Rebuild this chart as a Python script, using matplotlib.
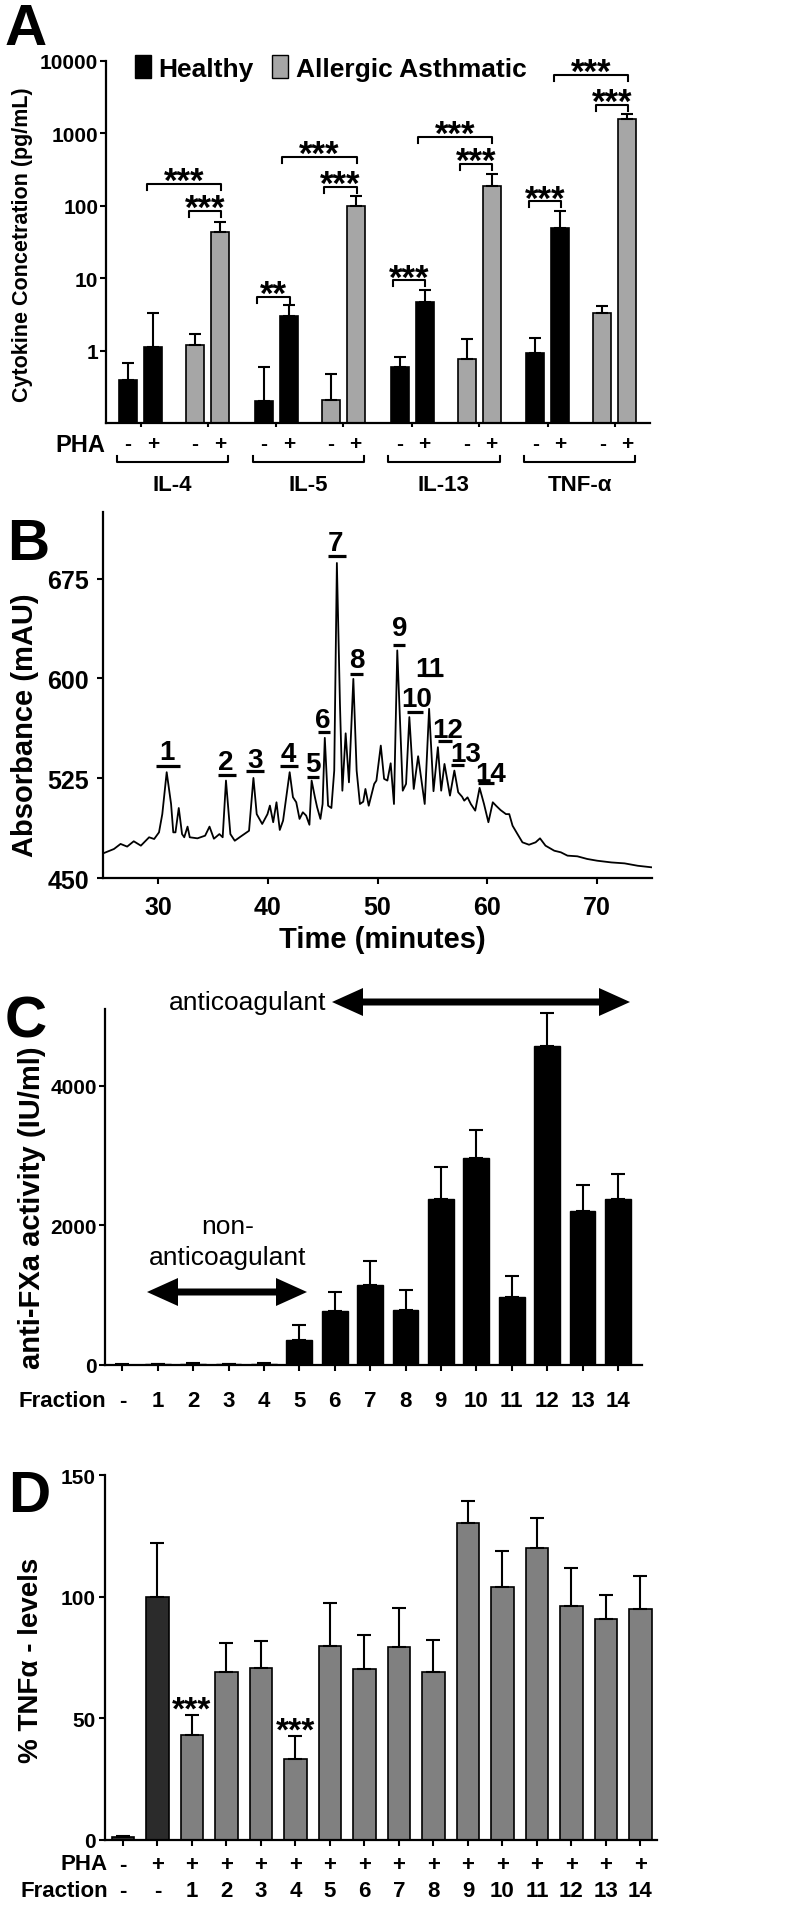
import numpy as np
import matplotlib
matplotlib.use('Agg')
import matplotlib.pyplot as plt
from matplotlib.patches import Patch, FancyArrow
from matplotlib.ticker import NullLocator
from matplotlib.transforms import blended_transform_factory

plt.rcParams['font.family'] = ['Liberation Sans', 'DejaVu Sans']
plt.rcParams['font.weight'] = 'bold'
plt.rcParams['axes.linewidth'] = 1.6
plt.rcParams['xtick.major.width'] = 1.5
plt.rcParams['ytick.major.width'] = 1.5

# ---------------- panel A data ----------------
cytokines = ['IL-4', 'IL-5', 'IL-13', 'TNF-α']
healthy_minus = [0.39, 0.20, 0.59, 0.93]
healthy_minus_err = [0.29, 0.39, 0.22, 0.56]
healthy_plus = [1.12, 3.0, 4.7, 49]
healthy_plus_err = [2.2, 1.2, 2.2, 36]
asthma_minus = [1.2, 0.21, 0.76, 3.3]
asthma_minus_err = [0.5, 0.27, 0.69, 0.8]
asthma_plus = [43.5, 100, 188, 1585]
asthma_plus_err = [16.5, 38, 87, 265]
# (cytokine, from bar, to bar, bracket height, label); bars 0=H-,1=H+,2=A-,3=A+
brackets = [(0, 1, 3, 200, '***'), (0, 2, 3, 85, '***'),
            (1, 0, 1, 5.5, '**'), (1, 1, 3, 472, '***'), (1, 2, 3, 182, '***'),
            (2, 0, 1, 9.4, '***'), (2, 1, 3, 891, '***'), (2, 2, 3, 378, '***'),
            (3, 0, 1, 116, '***'), (3, 1, 3, 6410, '***'), (3, 2, 3, 2466, '***')]
pha_signs = ['-', '+', '-', '+']

# ---------------- panel B data ----------------
chrom_time = [25.1, 26.0, 26.6, 27.2, 27.8, 28.45, 29.2, 29.66, 30.1, 30.4, 30.8, 31.2, 31.4, 31.6,
              31.9, 32.2, 32.4, 32.7, 32.9, 33.6, 34.3, 34.7, 35.1, 35.6, 35.9, 36.2, 36.6, 37.0,
              37.6, 38.3, 38.7, 39.0, 39.5, 39.98, 40.2, 40.5, 40.8, 41.1, 41.4, 42.0, 42.3, 42.6,
              42.9, 43.2, 43.5, 43.8, 44.0, 44.3, 44.5, 44.8, 45.0, 45.2, 45.5, 45.8, 46.06, 46.3,
              46.58, 46.8, 47.1, 47.4, 47.8, 48.1, 48.4, 48.7, 48.9, 49.2, 49.7, 49.9, 50.3, 50.6,
              50.9, 51.2, 51.5, 51.8, 52.3, 52.6, 52.9, 53.3, 53.7, 54.3, 54.7, 55.1, 55.5, 55.8,
              56.1, 56.6, 57.0, 57.35, 57.7, 57.9, 58.2, 58.5, 58.9, 59.3, 59.7, 60.1, 60.5, 60.8,
              61.2, 61.7, 62.0, 62.3, 62.75, 63.2, 63.8, 64.4, 64.8, 65.3, 66.1, 66.7, 67.3, 68.2,
              69.1, 70.0, 71.3, 72.5, 73.7, 75.0]
chrom_abs = [468.8, 471.8, 475.6, 473.6, 477.6, 474.3, 480.6, 479.3, 484.3, 498.0, 529.5, 505.6, 484.3, 484.3,
             502.6, 483.0, 480.6, 488.6, 480.6, 479.8, 481.8, 488.6, 479.5, 483.0, 480.6, 523.2, 483.0, 478.0,
             481.5, 485.5, 525.2, 498.0, 490.6, 498.0, 504.4, 491.9, 506.9, 486.1, 493.1, 529.5, 510.7, 506.9,
             494.4, 499.4, 496.9, 490.0, 523.2, 510.7, 503.2, 494.4, 505.6, 555.3, 504.3, 502.6, 530.7, 686.7,
             580.9, 515.6, 558.7, 521.9, 599.6, 530.7, 505.6, 507.3, 516.9, 504.3, 520.7, 523.2, 549.5, 524.5,
             523.2, 536.2, 505.6, 621.0, 515.6, 520.7, 570.9, 516.9, 541.5, 505.6, 577.1, 515.2, 548.3, 515.6,
             535.7, 511.9, 530.7, 514.4, 511.1, 508.1, 510.6, 505.6, 500.6, 517.7, 505.6, 491.9, 506.9, 504.3,
             501.1, 498.0, 498.0, 489.3, 483.0, 476.8, 475.0, 476.8, 479.8, 474.3, 470.5, 469.3, 466.8, 466.3,
             464.3, 463.0, 461.7, 461.0, 459.2, 458.0]
peak_ids = [str(i) for i in range(1, 15)]
peak_bar_start = [29.82, 35.46, 38.01, 41.14, 43.54, 44.54, 45.46, 47.49, 51.38, 52.65, 54.25, 55.47, 56.69, 59.12]
peak_bar_end = [32.0, 37.1, 39.68, 42.78, 44.64, 45.69, 47.12, 48.64, 52.52, 54.11, 55.84, 56.74, 57.9, 60.63]
peak_bar_y = [534.3, 527.5, 530.3, 534.3, 525.8, 559.6, 691.7, 603.5, 624.8, 574.7, 602.2, 553.3, 535.2, 521.2]
peak_text_t = [30.85, 36.22, 38.88, 41.89, 44.12, 45.03, 46.21, 48.14, 52.01, 53.54, 54.74, 56.41, 58.05, 60.33]
peak_text_y = [539.5, 532.0, 533.3, 538.2, 530.7, 563.8, 696.2, 608.5, 632.3, 579.6, 602.0, 556.1, 538.0, 522.9]

# ---------------- panel C data ----------------
fractions_c = ['-'] + [str(i) for i in range(1, 15)]
antifxa = [5, 10, 20, 10, 15, 359, 780, 1139, 794, 2384, 2972, 981, 4575, 2201, 2384]
antifxa_err = [5, 8, 10, 8, 8, 219, 264, 345, 287, 454, 392, 301, 466, 383, 359]

# ---------------- panel D data ----------------
pha_d = ['-'] + ['+'] * 15
fractions_d = ['-', '-'] + [str(i) for i in range(1, 15)]
tnf_levels = [1.2, 100, 43.3, 69.2, 70.7, 33.3, 79.6, 70.3, 79.4, 68.9, 130.2, 104.1, 120, 96.3, 90.8, 94.9]
tnf_err = [0.6, 22, 8.2, 11.7, 11.2, 9.6, 17.8, 14, 15.9, 13.3, 9, 14.8, 12.2, 15.3, 10, 13.4]
tnf_sig = {2: '***', 5: '***'}

W, H = 800, 1906
fig = plt.figure(figsize=(W / 100, H / 100), dpi=100)


def px(x):
    return x / W


def py(y):
    return 1 - y / H


def axes_px(l, t, r, b):
    ax = fig.add_axes([px(l), py(b), (r - l) / W, (b - t) / H])
    ax.spines['top'].set_visible(False)
    ax.spines['right'].set_visible(False)
    return ax


def star(ax, x, y, s, fs, gap):
    # asterisks sit about 0.39em above the baseline
    ax.annotate(s, xy=(x, y), xytext=(0, gap - 0.39 * fs), textcoords='offset points',
                ha='center', va='baseline', fontsize=fs, annotation_clip=False)


# panel letters
for lab, x, y in [('A', 5, 3), ('B', 7, 518), ('C', 5, 995), ('D', 8, 1470)]:
    fig.text(px(x), py(y), lab, fontsize=42, ha='left', va='top')

# ================= A =================
axA = axes_px(106, 62, 650, 424)
gsp = 5.43
offs = [0, 1, 2.68, 3.68]
bw = 0.72
series = [(healthy_minus, healthy_minus_err, 'black'), (healthy_plus, healthy_plus_err, 'black'),
          (asthma_minus, asthma_minus_err, '#a6a6a6'), (asthma_plus, asthma_plus_err, '#a6a6a6')]
for k, (vals, errs, col) in enumerate(series):
    xs = [g * gsp + offs[k] for g in range(4)]
    axA.bar(xs, vals, bw, color=col, edgecolor='black', linewidth=1.2,
            yerr=[np.zeros(4), errs], error_kw=dict(ecolor='black', elinewidth=1.5, capsize=4, capthick=1.5))
axA.set_yscale('log')
axA.set_ylim(0.1, 10000)
axA.set_xlim(-0.88, 20.88)
axA.set_yticks([1, 10, 100, 1000, 10000])
axA.set_yticklabels(['1', '10', '100', '1000', '10000'])
axA.yaxis.set_minor_locator(NullLocator())
axA.set_xticks([g * gsp + m for g in range(4) for m in (0.5, 3.18)])
axA.set_xticklabels([])
axA.tick_params(axis='y', labelsize=15, length=4.5, pad=1)
axA.tick_params(axis='x', length=3)

trA = blended_transform_factory(axA.transData, axA.transAxes)
for g in range(4):
    for k in range(4):
        axA.text(g * gsp + offs[k], -0.058, pha_signs[k], transform=trA, ha='center', va='center', fontsize=15)
    x0, x1 = g * gsp - 0.45, g * gsp + 4.0
    axA.plot([x0, x0, x1, x1], [-0.091, -0.108, -0.108, -0.091], transform=trA, clip_on=False, color='k', lw=1.5)
    axA.text((x0 + x1) / 2, -0.17, cytokines[g], transform=trA, ha='center', va='center', fontsize=16)
fig.text(px(105), py(445), 'PHA', ha='right', va='center', fontsize=17)

for g, a, b, yb, s in brackets:
    x0 = g * gsp + offs[a] - 0.26
    x1 = g * gsp + offs[b] + 0.04
    axA.plot([x0, x0, x1, x1], [yb * 0.826, yb, yb, yb * 0.826], color='k', lw=1.5, clip_on=False)
    star(axA, (x0 + x1) / 2, yb, s, 25, 4.5)

axA.legend([Patch(fc='black', ec='black'), Patch(fc='#a6a6a6', ec='black')],
           ['Healthy', 'Allergic Asthmatic'], ncol=2, frameon=False, loc='center left',
           bbox_to_anchor=(0.053, 0.981), borderaxespad=0, borderpad=0, handlelength=0.6,
           handleheight=0.95, handletextpad=0.3, columnspacing=0.7, prop={'size': 19, 'weight': 'bold'})
fig.text(px(23), py(245), 'Cytokine Concetration (pg/mL)', rotation=90, ha='center', va='center', fontsize=15.5)

# ================= B =================
axB = axes_px(103, 513, 652, 879)
axB.plot(chrom_time, chrom_abs, color='black', lw=1.3)
for i in range(14):
    axB.plot([peak_bar_start[i], peak_bar_end[i]], [peak_bar_y[i]] * 2, color='black', lw=2.3,
             solid_capstyle='butt')
    axB.text(peak_text_t[i], peak_text_y[i], peak_ids[i], ha='center', va='baseline', fontsize=20)
axB.set_xlim(25, 75)
axB.set_ylim(450, 725)
axB.set_xticks([30, 40, 50, 60, 70])
axB.set_yticks([450, 525, 600, 675])
axB.tick_params(labelsize=18, length=4)
axB.tick_params(axis='x', pad=8)
axB.tick_params(axis='y', pad=6)
fig.text(px(382), py(940), 'Time (minutes)', ha='center', va='center', fontsize=21)
fig.text(px(25), py(725), 'Absorbance (mAU)', rotation=90, ha='center', va='center', fontsize=21)

# ================= C =================
axC = axes_px(105, 1010, 642, 1366)
xc = np.arange(len(antifxa))
axC.bar(xc, antifxa, 0.73, color='black', edgecolor='black',
        yerr=[np.zeros(len(antifxa)), antifxa_err],
        error_kw=dict(ecolor='black', elinewidth=1.5, capsize=5, capthick=1.5))
axC.set_xlim(-0.49, 14.68)
axC.set_ylim(0, 5100)
axC.set_yticks([0, 2000, 4000])
axC.set_xticks(xc)
axC.set_xticklabels([])
axC.tick_params(labelsize=15, length=4, pad=2)
trC = blended_transform_factory(axC.transData, axC.transAxes)
for i, s in enumerate(fractions_c):
    axC.text(i, -0.1, s, transform=trC, ha='center', va='center', fontsize=16)
fig.text(px(106), py(1402), 'Fraction', ha='right', va='center', fontsize=16)
fig.text(px(32), py(1208), 'anti-FXa activity (IU/ml)', rotation=90, ha='center', va='center', fontsize=21)


def double_arrow(xl, xr, y):
    # drawn in inches so the heads keep their shape
    xm = (xl + xr) / 2
    for xe in (xl, xr):
        fig.add_artist(FancyArrow(xm / 100, (H - y) / 100, (xe - xm) / 100, 0, width=0.07,
                                  head_width=0.28, head_length=0.31, length_includes_head=True,
                                  transform=fig.dpi_scale_trans, color='black', lw=0))


double_arrow(332, 630, 1003)
double_arrow(147, 307, 1293)
fig.text(px(326), py(1003), 'anticoagulant', ha='right', va='center', fontsize=19, fontweight='normal')
fig.text(px(228), py(1227), 'non-', ha='center', va='center', fontsize=19, fontweight='normal')
fig.text(px(228), py(1258), 'anticoagulant', ha='center', va='center', fontsize=19, fontweight='normal')

# ================= D =================
axD = axes_px(105, 1476, 657, 1841)
xd = np.arange(len(tnf_levels))
colsD = ['#333333', '#2b2b2b'] + ['#808080'] * 14
axD.bar(xd, tnf_levels, 0.66, color=colsD, edgecolor='black', linewidth=1.2,
        yerr=[np.zeros(len(tnf_levels)), tnf_err],
        error_kw=dict(ecolor='black', elinewidth=1.5, capsize=5, capthick=1.5))
axD.set_xlim(-0.52, 15.48)
axD.set_ylim(0, 150)
axD.set_yticks([0, 50, 100, 150])
axD.set_xticks(xd)
axD.set_xticklabels([])
axD.tick_params(labelsize=15, length=4, pad=3)
for i, s in tnf_sig.items():
    star(axD, i, tnf_levels[i] + tnf_err[i], s, 24, 6.3)
trD = blended_transform_factory(axD.transData, axD.transAxes)
for i in range(len(tnf_levels)):
    axD.text(i, -0.066, pha_d[i], transform=trD, ha='center', va='center', fontsize=16)
    axD.text(i, -0.139, fractions_d[i], transform=trD, ha='center', va='center', fontsize=16)
fig.text(px(108), py(1865), 'PHA', ha='right', va='center', fontsize=16)
fig.text(px(108), py(1892), 'Fraction', ha='right', va='center', fontsize=16)
fig.text(px(31), py(1660), '% TNFα - levels', rotation=90, ha='center', va='center', fontsize=20)

fig.savefig('out.png', dpi=100)
